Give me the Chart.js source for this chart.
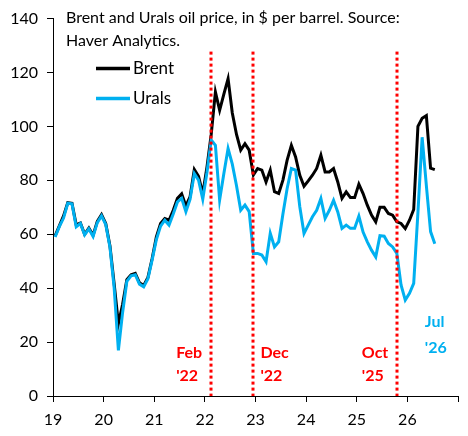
<!DOCTYPE html>
<html lang="en">
<head>
<meta charset="UTF-8">
<title>Brent and Urals oil price</title>
<style>
  html, body { margin: 0; padding: 0; background: #fff; }
  #chart { display: block; }
</style>
<script src="https://cdn.jsdelivr.net/npm/chart.js"></script>
</head>
<body>
<canvas id="chart" width="468" height="436"></canvas>
<script>
// monthly, Jan 2019 .. Jul 2026, $ per barrel
const brent = [
  59.4, 63.1, 66.8, 71.7, 71.5, 63.5, 64.2, 60.0, 62.3, 59.6, 64.8, 67.3,
  64.0, 55.7, 41.6, 26.8, 34.0, 43.2, 45.0, 45.5, 42.0, 41.0, 44.0, 51.0,
  59.0, 64.0, 65.8, 65.2, 68.9, 73.3, 75.0, 70.5, 74.0, 84.0, 81.5, 75.0,
  85.0, 97.0, 112.8, 106.0, 112.0, 117.7, 105.0, 97.0, 91.2, 93.6, 91.2, 82.0,
  84.4, 83.8, 79.4, 83.8, 75.8, 75.1, 80.1, 87.5, 93.0, 88.7, 81.9, 77.8,
  79.8, 81.9, 84.4, 89.3, 83.1, 83.1, 84.4, 79.4, 73.3, 75.7, 73.6, 73.6,
  78.6, 75.1, 70.8, 67.1, 64.6, 70.0, 70.0, 67.7, 67.1, 64.6, 64.0, 62.1,
  65.2, 69.2, 100.0, 103.0, 104.0, 84.5, 84.0
];
const urals = [
  59.0, 62.8, 66.0, 71.5, 71.3, 62.8, 64.0, 59.8, 62.0, 59.2, 64.3, 66.8,
  63.6, 55.2, 40.0, 16.9, 31.0, 42.5, 44.6, 45.0, 41.5, 40.5, 43.5, 50.5,
  58.0, 63.0, 65.2, 63.4, 67.5, 72.0, 73.3, 68.4, 73.0, 82.5, 80.1, 73.0,
  83.0, 95.0, 93.0, 72.7, 82.5, 91.8, 86.0, 78.0, 68.9, 70.8, 68.4, 52.9,
  52.9, 52.3, 49.8, 60.4, 55.3, 57.2, 67.5, 77.0, 84.4, 83.8, 70.2, 60.3,
  63.4, 66.5, 68.9, 73.3, 65.9, 68.9, 72.6, 68.3, 62.2, 63.4, 62.2, 62.2,
  66.7, 60.8, 57.2, 54.1, 51.6, 59.5, 59.3, 56.6, 55.3, 52.9, 41.2, 35.6,
  38.1, 41.8, 68.0, 96.0, 78.0, 61.0, 56.5
];
const firstYear = 19;
const yearLabels = ['19', '20', '21', '22', '23', '24', '25', '26'];

// dotted markers: Feb '22, Dec '22, Oct '25 (mid-month, in years)
const eventDates = [22 + 1.5 / 12, 22 + 11.5 / 12, 25 + 9.5 / 12];
const eventLabels = [['Feb', "'22"], ['Dec', "'22"], ['Oct', "'25"]];
const eventSide = ['left', 'right', 'left'];
const endLabel = ['Jul', "'26"];

const titleLines = ['Brent and Urals oil price, in $ per barrel. Source:', 'Haver Analytics.'];
const RED = '#ff0000', BLUE = '#00b0f0';
const FONT = 'Lato';

function toPoints(arr) {
  return arr.map((v, i) => ({ x: firstYear + (i + 0.5) / 12, y: v }));
}

const overlay = {
  id: 'overlay',
  afterDatasetsDraw(chart) {
    const { ctx, chartArea: a, scales: { x } } = chart;
    ctx.save();

    // vertical red dotted lines
    ctx.strokeStyle = RED;
    ctx.lineWidth = 3;
    ctx.setLineDash([3, 3]);
    eventDates.forEach(d => {
      const px = Math.round(x.getPixelForValue(d));
      ctx.beginPath();
      ctx.moveTo(px, a.top + 33);
      ctx.lineTo(px, a.bottom);
      ctx.stroke();
    });
    ctx.setLineDash([]);

    // labels next to them
    ctx.font = 'bold 16px ' + FONT;
    ctx.textAlign = 'left';
    ctx.textBaseline = 'alphabetic';
    ctx.fillStyle = RED;
    eventDates.forEach((d, i) => {
      const px = x.getPixelForValue(d);
      const lx = eventSide[i] === 'left' ? px - 35 : px + 7;
      ctx.fillText(eventLabels[i][0], lx, a.bottom - 38);
      ctx.fillText(eventLabels[i][1], lx, a.bottom - 15);
    });

    // last month label
    const lastX = x.getPixelForValue(firstYear + (urals.length - 0.5) / 12);
    ctx.fillStyle = BLUE;
    ctx.fillText(endLabel[0], lastX - 10, a.bottom - 69);
    ctx.fillText(endLabel[1], lastX - 10, a.bottom - 43);

    // title
    ctx.fillStyle = '#000';
    ctx.font = '16px ' + FONT;
    ctx.fillText(titleLines[0], a.left + 13, a.top + 4);
    ctx.fillText(titleLines[1], a.left + 13, a.top + 27);

    // legend
    const items = [['Brent', '#000'], ['Urals', BLUE]];
    items.forEach((it, i) => {
      const ly = a.top + 50 + i * 30;
      ctx.strokeStyle = it[1];
      ctx.lineWidth = 3.5;
      ctx.beginPath();
      ctx.moveTo(a.left + 43, ly);
      ctx.lineTo(a.left + 77, ly);
      ctx.stroke();
      ctx.fillStyle = '#000';
      ctx.font = '17px ' + FONT;
      ctx.fillText(it[0], a.left + 80, ly + 5);
    });

    ctx.restore();
  }
};

new Chart(document.getElementById('chart'), {
  type: 'line',
  data: {
    datasets: [
      { label: 'Urals', data: toPoints(urals), borderColor: BLUE, borderWidth: 3, pointRadius: 0, tension: 0 },
      { label: 'Brent', data: toPoints(brent), borderColor: '#000', borderWidth: 3, pointRadius: 0, tension: 0 }
    ]
  },
  options: {
    responsive: false,
    animation: false,
    events: [],
    layout: { padding: { top: 18, right: 10, left: 0, bottom: 0 } },
    plugins: { legend: { display: false }, tooltip: { enabled: false } },
    scales: {
      x: {
        type: 'linear',
        min: 19,
        max: 27,
        afterFit: s => { s.height = 40; },
        afterBuildTicks: s => { s.ticks = [19, 20, 21, 22, 23, 24, 25, 26, 27].map(v => ({ value: v })); },
        ticks: {
          autoSkip: false,
          maxRotation: 0,
          padding: 8,
          color: '#000',
          font: { family: FONT, size: 16 },
          callback: v => yearLabels[v - firstYear] || ''
        },
        grid: { drawOnChartArea: false, tickLength: 6, color: '#000' },
        border: { color: '#000', width: 1 }
      },
      y: {
        min: 0,
        max: 140,
        afterFit: s => { s.width = 53; },
        ticks: {
          stepSize: 20,
          padding: 9,
          color: '#000',
          font: { family: FONT, size: 16 }
        },
        grid: { drawOnChartArea: false, tickLength: 6, color: '#000' },
        border: { color: '#000', width: 1 }
      }
    }
  },
  plugins: [overlay]
});
</script>
</body>
</html>
